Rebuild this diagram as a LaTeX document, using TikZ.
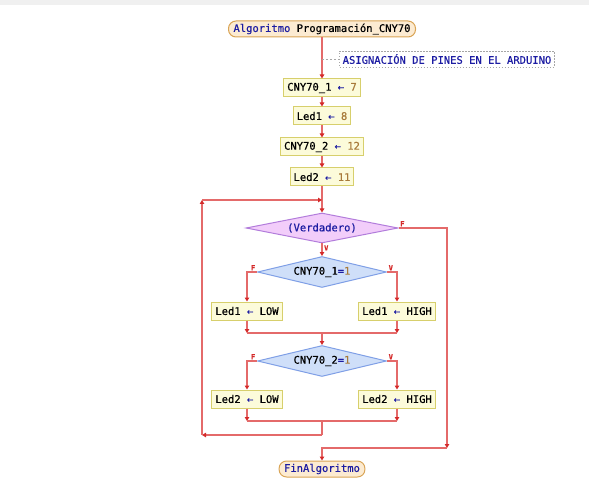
\documentclass[tikz,border=0pt]{standalone}
\usepackage{fontspec}
\setmainfont{DejaVu Sans Mono}[FakeBold=0.6]
\usepackage{xcolor}
\usetikzlibrary{arrows.meta,shapes.geometric}

\definecolor{lineRed}{HTML}{E46A6A}
\definecolor{tipRed}{HTML}{D42A2A}
\definecolor{termFill}{HTML}{FCEBD2}
\definecolor{termEdge}{HTML}{D9A455}
\definecolor{boxFill}{HTML}{FCFBDA}
\definecolor{boxEdge}{HTML}{D7CF6C}
\definecolor{mainFill}{HTML}{F2CDFA}
\definecolor{mainEdge}{HTML}{B27CDB}
\definecolor{condFill}{HTML}{CFDFF9}
\definecolor{condEdge}{HTML}{7F9FE6}
\definecolor{kwBlue}{HTML}{1C1CA2}
\definecolor{numBrown}{HTML}{A87A3A}
\definecolor{topBar}{HTML}{F0F0F0}

\newcommand{\asg}{{\color{kwBlue}←}}
\newcommand{\val}[1]{{\color{numBrown}#1}}

\tikzset{
  term/.style={draw=termEdge, fill=termFill, line width=1pt, rounded corners=7.5pt,
    minimum height=16pt, inner xsep=5pt, inner ysep=0pt, font=\fontsize{10.5}{12}\selectfont},
  asig/.style={draw=boxEdge, fill=boxFill, line width=1pt, minimum height=18pt,
    inner xsep=3.5pt, inner ysep=0pt, font=\fontsize{10.5}{12}\selectfont},
  cond/.style={diamond, shape aspect=5, draw=condEdge, fill=condFill, line width=1pt,
    inner sep=0pt, font=\fontsize{10.5}{12}\selectfont},
  nota/.style={draw=gray!70, dash pattern=on 1.5pt off 1.5pt, line width=0.8pt,
    minimum height=16pt, inner xsep=3pt, inner ysep=0pt, text=kwBlue,
    font=\fontsize{10.5}{12}\selectfont},
  flow/.style={draw=lineRed, line width=1.3pt, -{Triangle[length=4pt,width=4.5pt,color=tipRed]}},
  flowline/.style={draw=lineRed, line width=1.3pt},
  rama/.style={text=tipRed, font=\fontsize{7}{8}\selectfont\bfseries, inner sep=1.5pt}
}

\begin{document}
\begin{tikzpicture}[x=1pt,y=-1pt]

% Page size (pixels of the reference)
\useasboundingbox (0,0) rectangle (589,481);
\fill[topBar] (0,0) rectangle (589,5);

% Main column
\def\xmid{322}

% Start and pin assignments
\node[term] (inicio) at (\xmid,29) {{\color{kwBlue}Algoritmo} Programación\_CNY70};
\node[nota] (nota) at (447,59) {ASIGNACIÓN DE PINES EN EL ARDUINO};
\node[asig] (a1) at (\xmid,88)  {CNY70\_1 \asg{} \val{7}};
\node[asig] (a2) at (\xmid,116) {Led1 \asg{} \val{8}};
\node[asig] (a3) at (\xmid,147) {CNY70\_2 \asg{} \val{12}};
\node[asig] (a4) at (\xmid,177) {Led2 \asg{} \val{11}};

% Loop condition
\node[cond, draw=mainEdge, fill=mainFill, text=kwBlue,
      minimum width=152pt, minimum height=30pt] (mientras) at (\xmid,228) {(Verdadero)};

% First sensor
\node[cond, minimum width=129pt, minimum height=31pt] (c1) at (\xmid,272)
  {CNY70\_1{\color{kwBlue}=}\val{1}};
\node[asig] (l1low)  at (247,311) {Led1 \asg{} LOW};
\node[asig] (l1high) at (397,311) {Led1 \asg{} HIGH};

% Second sensor
\node[cond, minimum width=129pt, minimum height=31pt] (c2) at (\xmid,361)
  {CNY70\_2{\color{kwBlue}=}\val{1}};
\node[asig] (l2low)  at (247,399) {Led2 \asg{} LOW};
\node[asig] (l2high) at (397,399) {Led2 \asg{} HIGH};

% End
\node[term, text=kwBlue] (fin) at (\xmid,469) {FinAlgoritmo};

% Helper points
\coordinate (m1) at (\xmid,333);
\coordinate (m2) at (\xmid,421);
\coordinate (ret) at (\xmid,435);
\coordinate (lazoB) at (202,435);
\coordinate (lazoT) at (202,200);
\coordinate (lazoIn) at (\xmid,200);
\coordinate (sal) at (447,448);

% Sequence
\draw[flow] (inicio) -- (a1);
\draw[flowline, draw=gray!70, dash pattern=on 2pt off 2pt, line width=0.8pt]
  (inicio.south |- nota.west) -- (nota.west);
\draw[flow] (a1) -- (a2);
\draw[flow] (a2) -- (a3);
\draw[flow] (a3) -- (a4);
\draw[flow] (a4) -- (mientras);

% Loop body
\draw[flow] (mientras) -- (c1) node[rama, pos=0.35, right] {V};
\node[rama, above right] at (mientras.east) {F};
\draw[flow] (c1.west) -| (l1low.north);
\draw[flow] (c1.east) -| (l1high.north);
\node[rama, above left] at (c1.west) {F};
\node[rama, above right] at (c1.east) {V};
\draw[flow] (l1low.south) -- (l1low.south |- m1);
\draw[flow] (l1high.south) -- (l1high.south |- m1);
\draw[flowline] (l1low.south |- m1) -- (l1high.south |- m1);
\draw[flow] (m1) -- (c2);

\draw[flow] (c2.west) -| (l2low.north);
\draw[flow] (c2.east) -| (l2high.north);
\node[rama, above left] at (c2.west) {F};
\node[rama, above right] at (c2.east) {V};
\draw[flow] (l2low.south) -- (l2low.south |- m2);
\draw[flow] (l2high.south) -- (l2high.south |- m2);
\draw[flowline] (l2low.south |- m2) -- (l2high.south |- m2);

% Back to the loop
\draw[flowline] (m2) -- (ret);
\draw[flow] (ret) -- (lazoB);
\draw[flow] (lazoB) -- (lazoT);
\draw[flow] (lazoT) -- (lazoIn);

% Exit
\draw[flow] (mientras.east) -| (sal);
\draw[flow] (sal) -| (fin.north);

\end{tikzpicture}
\end{document}
